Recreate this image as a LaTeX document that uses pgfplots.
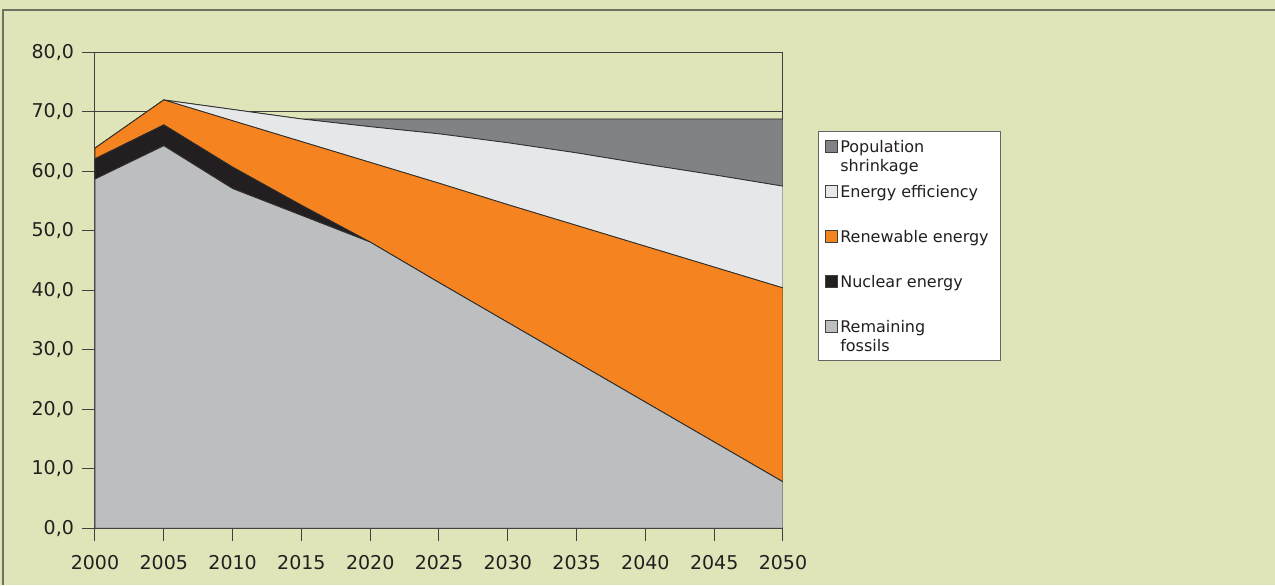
\documentclass[border=0pt]{standalone}
\usepackage{fontspec}
\setmainfont{DejaVu Sans}
\usepackage{pgfplots}
\pgfplotsset{compat=1.18}
\usepackage{pgfplotstable}
\definecolor{bgc}{RGB}{223,229,184}
\definecolor{framec}{RGB}{110,114,96}
\definecolor{fossilc}{RGB}{188,190,192}
\definecolor{nuclearc}{RGB}{35,31,32}
\definecolor{renewc}{RGB}{244,131,32}
\definecolor{effc}{RGB}{230,231,232}
\definecolor{popc}{RGB}{128,130,133}
\definecolor{linec}{RGB}{45,45,45}
\definecolor{tickc}{RGB}{35,31,32}
\pgfplotstableread{
year fossil nuclear renew eff pop
2000 58.7 3.4 1.8 0 0
2005 64.3 3.5 4.2 0 0
2010 57.1 3.6 7.8 1.9 0
2015 52.6 1.7 10.7 3.8 0
2020 48.1 0 13.4 6.0 1.3
2025 41.3 0 16.7 8.3 2.5
2030 34.6 0 19.8 10.4 4.0
2035 27.9 0 23.0 12.2 5.7
2040 21.2 0 26.2 13.8 7.6
2045 14.5 0 29.4 15.5 9.4
2050 7.8 0 32.6 17.1 11.3
}\datatable
\newcommand{\legtext}[1]{\parbox[t]{76.8pt}{\raggedright #1}}
\begin{document}
\begin{tikzpicture}
\useasboundingbox (0,0) rectangle (637.5pt,292.5pt);
\fill[bgc] (0,0) rectangle (637.5pt,292.5pt);
\draw[framec, line width=1pt] (1.65pt,0) -- (1.65pt,287.5pt) -- (637.5pt,287.5pt);
\begin{axis}[
  at={(47.5pt,28.35pt)}, anchor=south west,
  scale only axis, width=344pt, height=238pt,
  xmin=2000, xmax=2050, ymin=0, ymax=80,
  xtick={2000,2005,...,2050}, ytick={0,10,...,80},
  tick pos=left, tick align=outside, major tick length=6.5pt,
  stack plots=y,
  ymajorgrids, grid style={draw=black!75, line width=0.5pt},
  axis line style={draw=black!75, line width=0.5pt},
  tick style={draw=black!75, line width=0.5pt},
  ticklabel style={font=\fontsize{9.5}{11}\selectfont, text=tickc},
  /pgf/number format/assume math mode=true,
  y tick label style={/pgf/number format/fixed, /pgf/number format/fixed zerofill, /pgf/number format/precision=1, /pgf/number format/use comma, xshift=-0.5pt},
  x tick label style={/pgf/number format/1000 sep={}, yshift=-3.5pt},
  reverse legend,
  legend style={at={(1.0513,0.8347)}, anchor=north west, draw=black!60, fill=white, line width=0.5pt,
    inner xsep=3.35pt, inner ysep=2pt, row sep=1.95pt, column sep=1pt,
    font=\fontsize{8}{9.6}\selectfont, text=tickc,
    cells={anchor=base west},
    nodes={inner sep=0pt, text height=8.25pt, text depth=12.3pt}},
  legend image code/.code={\draw[#1, draw=black!75, line width=0.4pt] (0pt,-0.1pt) rectangle (6pt,5.9pt);},
]
\addplot[fill=fossilc, draw=linec, line width=0.4pt] table[x=year,y=fossil]{\datatable} \closedcycle;
\addlegendentry{\legtext{Remaining\\fossils}}
\addplot[fill=nuclearc, draw=linec, line width=0.4pt] table[x=year,y=nuclear]{\datatable} \closedcycle;
\addlegendentry{\legtext{Nuclear energy}}
\addplot[fill=renewc, draw=linec, line width=0.4pt] table[x=year,y=renew]{\datatable} \closedcycle;
\addlegendentry{\legtext{Renewable energy}}
\addplot[fill=effc, draw=linec, line width=0.4pt] table[x=year,y=eff]{\datatable} \closedcycle;
\addlegendentry{\legtext{Energy efficiency}}
\addplot[fill=popc, draw=linec, line width=0.4pt] table[x=year,y=pop]{\datatable} \closedcycle;
\addlegendentry{\legtext{Population\\shrinkage}}
\end{axis}
\end{tikzpicture}
\end{document}
